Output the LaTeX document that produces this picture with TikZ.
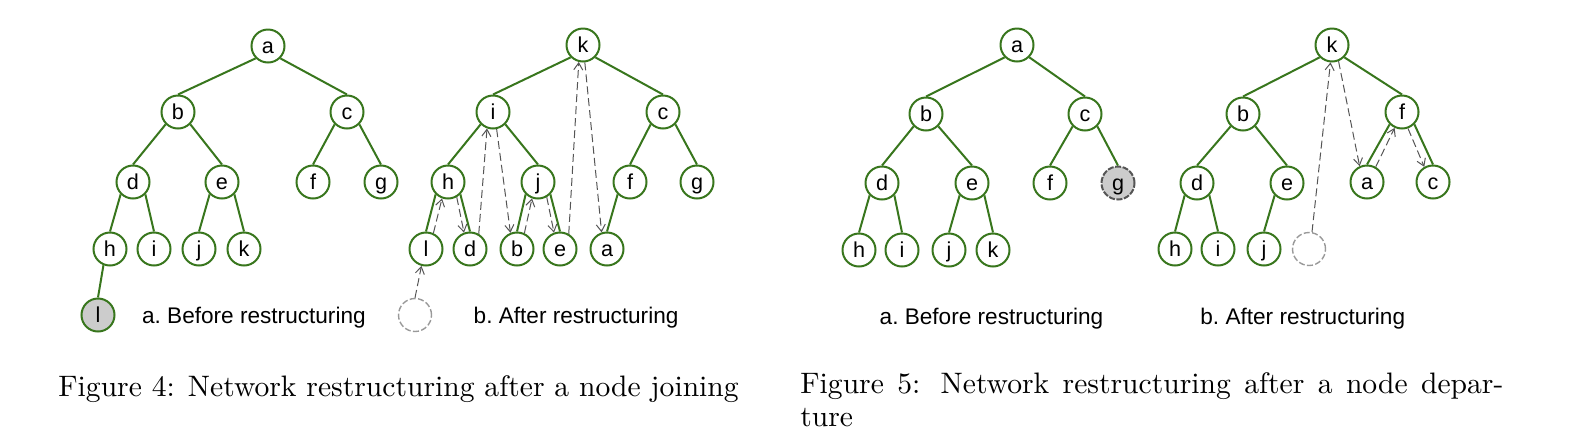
\documentclass[tikz,border=0pt]{standalone}
\usepackage{fontspec}
\newfontfamily\arialf{Liberation Sans}
\newfontfamily\capfont{lmroman10-regular}[Extension=.otf]
\usetikzlibrary{arrows.meta}
\definecolor{tgreen}{HTML}{38761D}
\definecolor{tgrayfill}{HTML}{CCCCCC}
\definecolor{tdash}{HTML}{555555}
\definecolor{tghost}{HTML}{999999}
\tikzset{
  peer/.style={circle, draw=tgreen, line width=1pt, fill=white, minimum size=16.5pt,
    inner sep=0pt, text height=7pt, text depth=0pt, font=\arialf\fontsize{10.8}{12}\selectfont},
  grayed/.style={peer, fill=tgrayfill},
  grayout/.style={peer, fill=tgrayfill, draw=tdash, dash pattern=on 3pt off 0.8pt},
  ghost/.style={circle, draw=tghost, line width=0.7pt, dash pattern=on 3pt off 1.2pt,
    minimum size=16.5pt, inner sep=0pt},
  link/.style={draw=tgreen, line width=1pt},
  hop/.style={draw=tdash, line width=0.5pt, dash pattern=on 4pt off 2pt,
    -{Straight Barb[length=3.5pt,width=4.5pt]}},
  sublabel/.style={anchor=base west, inner sep=0pt, font=\arialf\fontsize{11.3}{13}\selectfont\frenchspacing},
  captext/.style={anchor=base west, inner sep=0pt, font=\capfont\fontsize{14.8}{18}\selectfont}
}
\begin{document}
\begin{tikzpicture}[x=0.5pt,y=-0.5pt]
\useasboundingbox (0,0) rectangle (1594,446);
% ---------- Figure 4a ----------
\node[peer] (Aa) at (268,46) {a};
\node[peer] (Ab) at (178,112) {b};
\node[peer] (Ac) at (347,112) {c};
\node[peer] (Ad) at (133,182) {d};
\node[peer] (Ae) at (222,182) {e};
\node[peer] (Af) at (313,182) {f};
\node[peer] (Ag) at (381,182) {g};
\node[peer] (Ah) at (110,249) {h};
\node[peer] (Ai) at (154,249) {i};
\node[peer] (Aj) at (199,249) {j};
\node[peer] (Ak) at (244,249) {k};
\node[grayed] (Al) at (98,315) {l};
\draw[link] (Aa.south west) -- (Ab.north);
\draw[link] (Aa.south east) -- (Ac.north);
\draw[link] (Ab.south west) -- (Ad.north);
\draw[link] (Ab.south east) -- (Ae.north);
\draw[link] (Ac.south west) -- (Af.north);
\draw[link] (Ac.south east) -- (Ag.north);
\draw[link] (Ad.south west) -- (Ah.north);
\draw[link] (Ad.south east) -- (Ai.north);
\draw[link] (Ae.south west) -- (Aj.north);
\draw[link] (Ae.south east) -- (Ak.north);
\draw[link] (Ah.248) -- (Al.north);
\node[sublabel] (Alab) at (141.7,323.3) {a. Before restructuring};
% ---------- Figure 4b ----------
\node[peer] (Bk) at (583,45) {k};
\node[peer] (Bi) at (493,112) {i};
\node[peer] (Bc) at (663,112) {c};
\node[peer] (Bh) at (448,182) {h};
\node[peer] (Bj) at (538,182) {j};
\node[peer] (Bf) at (630,182) {f};
\node[peer] (Bg) at (697,182) {g};
\node[peer] (Bl) at (426,249) {l};
\node[peer] (Bd) at (470,249) {d};
\node[peer] (Bb) at (517,249) {b};
\node[peer] (Be) at (560,249) {e};
\node[peer] (Ba) at (607,249) {a};
\node[ghost] (Bnew) at (415,315) {};
\draw[link] (Bk.south west) -- (Bi.north);
\draw[link] (Bk.south east) -- (Bc.north);
\draw[link] (Bi.south west) -- (Bh.north);
\draw[link] (Bi.south east) -- (Bj.north);
\draw[link] (Bc.south west) -- (Bf.north);
\draw[link] (Bc.south east) -- (Bg.north);
\draw[link] (Bh.south west) -- (Bl.north);
\draw[link] (Bh.south east) -- (Bd.north);
\draw[link] (Bj.south west) -- (Bb.north);
\draw[link] (Bj.south east) -- (Be.north);
\draw[link] (Bf.south west) -- (Ba.north);
\draw[hop] (Bnew.north) -- (Bl.255);
\draw[hop] (Bl.65) -- (Bh.250);
\draw[hop] (Bh.-60) -- (Bd.110);
\draw[hop] (Bd.60) -- (Bi.250);
\draw[hop] (Bi.-78) -- (Bb.112);
\draw[hop] (Bb.65) -- (Bj.250);
\draw[hop] (Bj.-60) -- (Be.110);
\draw[hop] (Be.60) -- (Bk.256);
\draw[hop] (Bk.-84) -- (Ba.108);
\node[sublabel] (Blab) at (473.3,323.3) {b. After restructuring};
% ---------- Figure 5a ----------
\node[peer] (Ca) at (1017,45) {a};
\node[peer] (Cb) at (926,114) {b};
\node[peer] (Cc) at (1085,114) {c};
\node[peer] (Cd) at (882,183) {d};
\node[peer] (Ce) at (972,183) {e};
\node[peer] (Cf) at (1050,183) {f};
\node[grayout] (Cg) at (1118,183) {g};
\node[peer] (Ch) at (859,250) {h};
\node[peer] (Ci) at (902,250) {i};
\node[peer] (Cj) at (949,250) {j};
\node[peer] (Ck) at (993,250) {k};
\draw[link] (Ca.south west) -- (Cb.north);
\draw[link] (Ca.south east) -- (Cc.north);
\draw[link] (Cb.south west) -- (Cd.north);
\draw[link] (Cb.south east) -- (Ce.north);
\draw[link] (Cc.south west) -- (Cf.north);
\draw[link] (Cc.south east) -- (Cg.north);
\draw[link] (Cd.south west) -- (Ch.north);
\draw[link] (Cd.south east) -- (Ci.north);
\draw[link] (Ce.south west) -- (Cj.north);
\draw[link] (Ce.south east) -- (Ck.north);
\node[sublabel] (Clab) at (879.3,324) {a. Before restructuring};
% ---------- Figure 5b ----------
\node[peer] (Dk) at (1332,45) {k};
\node[peer] (Db) at (1243,114) {b};
\node[peer] (Df) at (1402,112) {f};
\node[peer] (Dd) at (1197,183) {d};
\node[peer] (De) at (1287,183) {e};
\node[peer] (Da) at (1367,182) {a};
\node[peer] (Dc) at (1433,182) {c};
\node[peer] (Dh) at (1175,249) {h};
\node[peer] (Di) at (1218,249) {i};
\node[peer] (Dj) at (1264,249) {j};
\node[ghost] (Dnew) at (1309,249) {};
\draw[link] (Dk.south west) -- (Db.north);
\draw[link] (Dk.south east) -- (Df.north);
\draw[link] (Db.south west) -- (Dd.north);
\draw[link] (Db.south east) -- (De.north);
\draw[link] (Dd.south west) -- (Dh.north);
\draw[link] (Dd.south east) -- (Di.north);
\draw[link] (De.south west) -- (Dj.north);
\draw[link] (Df.south west) -- (Da.north);
\draw[link] (Df.south east) -- (Dc.north);
\draw[hop] (Dnew.80) -- (Dk.265);
\draw[hop] (Dk.-68) -- (Da.115);
\draw[hop] (Da.60) -- (Df.245);
\draw[hop] (Df.-70) -- (Dc.120);
\node[sublabel] (Dlab) at (1200,324) {b. After restructuring};
% ---------- Captions ----------
\node[captext] (cap4) at (58,396) {Figure 4: Network restructuring after a node joining};
\node[captext] (cap5a) at (800,393) {\makebox[351.5pt][s]{Figure 5: Network restructuring after a node depar-}};
\node[captext] (cap5b) at (800,426) {ture};
\end{tikzpicture}
\end{document}
